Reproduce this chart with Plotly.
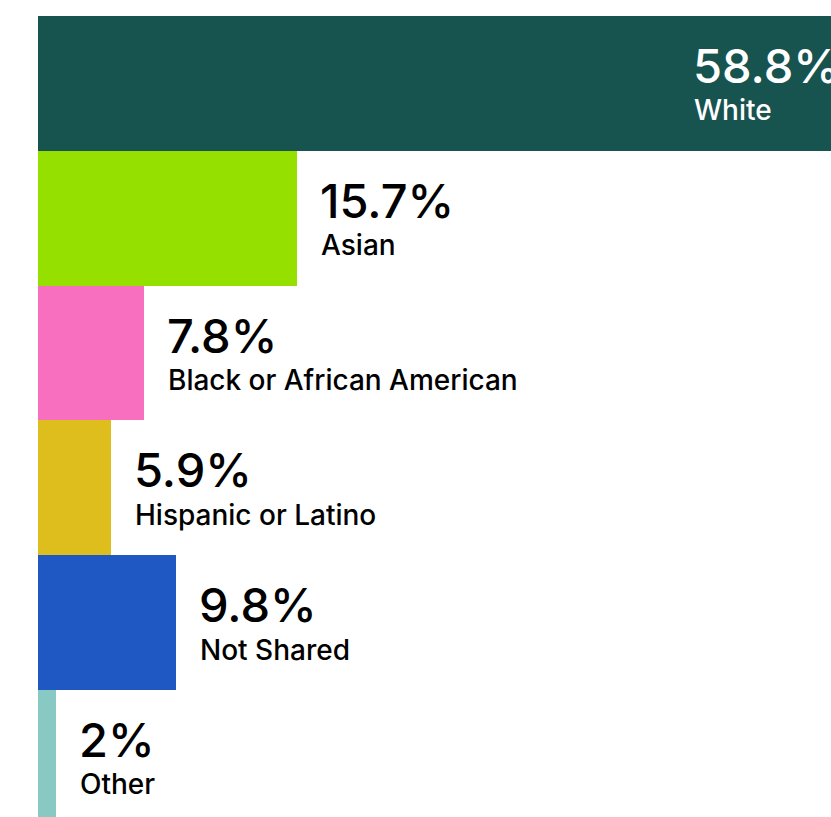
import plotly.graph_objects as go

categories = ["White", "Asian", "Black or African American", "Hispanic or Latino", "Not Shared", "Other"]
pct_values = [58.8, 15.7, 7.8, 5.9, 9.8, 2.0]
pct_labels = ["58.8%", "15.7%", "7.8%", "5.9%", "9.8%", "2%"]
# bar lengths as drawn in the picture (axis units, axis spans 0..793)
bar_lengths = [1000, 259, 106, 73, 138, 18]
colors = ["#17544F", "#96E000", "#F76FBE", "#DEBE1C", "#1F58C3", "#88C9C4"]
text_colors = ["#FFFFFF", "#000000", "#000000", "#000000", "#000000", "#000000"]

FONT = "Inter"
W, H = 831, 817
ML, MT = 38, 16

y_idx = list(range(len(categories)))

fig = go.Figure()
fig.add_trace(go.Bar(
    y=y_idx, x=bar_lengths, orientation="h",
    marker=dict(color=colors, line=dict(width=0)),
    width=1.0, hoverinfo="skip", showlegend=False,
))

annotations = []
for i, (cat, lab, bl, tc) in enumerate(zip(categories, pct_labels, bar_lengths, text_colors)):
    if bl > 793:
        xpos = 655
        shift = 0
    else:
        xpos = bl
        shift = 23
    annotations.append(dict(
        x=xpos, y=i, xref="x", yref="y", text=lab, showarrow=False,
        xanchor="left", yanchor="middle", xshift=shift - 2, yshift=18,
        font=dict(family=FONT, size=47, color=tc, weight=500),
    ))
    annotations.append(dict(
        x=xpos, y=i, xref="x", yref="y", text=cat, showarrow=False,
        xanchor="left", yanchor="middle", xshift=shift - 1, yshift=-27,
        font=dict(family=FONT, size=28, color=tc, weight=500),
    ))

band = 134.8
y_bottom = -0.5 + (H - MT) / band

fig.update_layout(
    width=W, height=H,
    margin=dict(l=ML, r=0, t=MT, b=0, pad=0),
    paper_bgcolor="white", plot_bgcolor="white",
    bargap=0,
    xaxis=dict(range=[0, W - ML], visible=False, fixedrange=True),
    yaxis=dict(range=[y_bottom, -0.5], visible=False, fixedrange=True),
    annotations=annotations,
)

fig.write_html("out.html")
